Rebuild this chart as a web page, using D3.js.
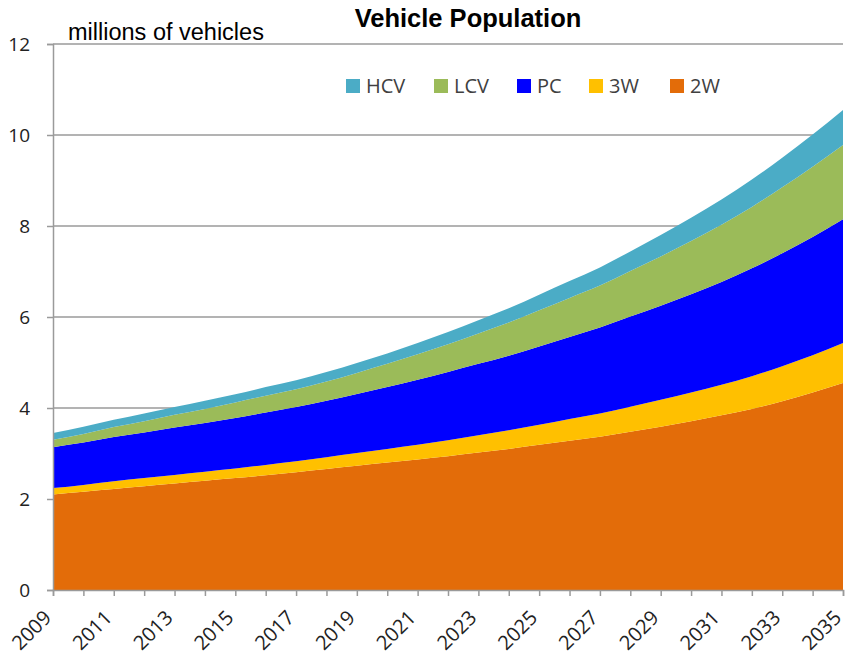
<!DOCTYPE html>
<html><head><meta charset="utf-8">
<script src="https://cdn.jsdelivr.net/npm/d3@7"></script>
<style>body{margin:0;background:#fff}svg{display:block}</style>
</head><body>
<svg id="c" width="846" height="662"></svg>
<script>
const years = d3.range(2009, 2036);
const tw  = [2.10,2.16,2.22,2.28,2.34,2.40,2.46,2.52,2.59,2.66,2.73,2.80,2.87,2.94,3.02,3.10,3.19,3.28,3.37,3.48,3.59,3.71,3.84,3.98,4.15,4.34,4.55];
const thw = [0.14,0.15,0.17,0.18,0.19,0.20,0.21,0.23,0.24,0.26,0.28,0.30,0.32,0.35,0.38,0.41,0.44,0.48,0.51,0.55,0.59,0.63,0.67,0.72,0.77,0.82,0.88];
const pc  = [0.90,0.93,0.97,1.00,1.04,1.07,1.11,1.15,1.19,1.24,1.30,1.36,1.43,1.50,1.57,1.64,1.72,1.80,1.89,1.98,2.07,2.16,2.26,2.37,2.48,2.60,2.72];
const lcv = [0.16,0.19,0.22,0.25,0.28,0.31,0.34,0.37,0.39,0.42,0.46,0.51,0.56,0.61,0.67,0.73,0.80,0.86,0.92,1.00,1.08,1.17,1.26,1.35,1.45,1.54,1.63];
const hcv = [0.15,0.16,0.16,0.17,0.17,0.18,0.18,0.19,0.20,0.21,0.22,0.23,0.25,0.27,0.29,0.31,0.34,0.37,0.40,0.43,0.47,0.51,0.55,0.60,0.65,0.71,0.77];
const seriesNames = ["2W","3W","PC","LCV","HCV"];
const legendOrder = ["HCV","LCV","PC","3W","2W"];
const colors = {"2W":"#E36C09","3W":"#FFC000","PC":"#0000FF","LCV":"#9BBB59","HCV":"#4BACC6"};
const yTicks = [0,2,4,6,8,10,12];
const xLabelYears = d3.range(2009, 2036, 2);

const rows = years.map((y,i)=>({year:y,"2W":tw[i],"3W":thw[i],"PC":pc[i],"LCV":lcv[i],"HCV":hcv[i]}));
const stack = d3.stack().keys(seriesNames)(rows);

const svg = d3.select("#c");
const L=53,R=843,T=44,B=590;
const x = d3.scaleLinear().domain([2009,2035]).range([L,R]);
const y = d3.scaleLinear().domain([0,12]).range([B,T]);
const grid="#9a9a9a";

// gridlines
svg.append("g").selectAll("line").data(yTicks.filter(d=>d>0)).join("line")
  .attr("x1",L).attr("x2",R).attr("y1",d=>y(d)).attr("y2",d=>y(d))
  .attr("stroke",grid).attr("stroke-width",1.5);

// areas
const area = d3.area().x(d=>x(d.data.year)).y0(d=>y(d[0])).y1(d=>y(d[1])).curve(d3.curveMonotoneX);
svg.append("g").selectAll("path").data(stack).join("path")
  .attr("d",area).attr("fill",d=>colors[d.key]);

// y axis
const ya = svg.append("g").attr("transform",`translate(${L},0)`)
  .call(d3.axisLeft(y).tickValues(yTicks).tickSize(6).tickPadding(17).tickFormat(d3.format("d")));
ya.select(".domain").attr("stroke",grid).attr("stroke-width",1.5);
ya.selectAll(".tick line").attr("stroke",grid).attr("stroke-width",1.5);
ya.selectAll("text").attr("font-family","Open Sans, Noto Sans, sans-serif").attr("font-size",19).attr("fill","#222").attr("dy","0.35em");

// x axis
const xa = svg.append("g").attr("transform",`translate(0,${B})`)
  .call(d3.axisBottom(x).tickValues(years).tickSize(6).tickFormat(d=>xLabelYears.includes(d)?d:""));
xa.select(".domain").attr("stroke",grid).attr("stroke-width",1.5);
xa.selectAll(".tick line").attr("stroke",grid).attr("stroke-width",1.5);
xa.selectAll("text").attr("font-family","Open Sans, Noto Sans, sans-serif").attr("font-size",20).attr("fill","#222")
  .attr("text-anchor","end").attr("dy",0).attr("y",0)
  .attr("transform","translate(-1,29) rotate(-45)");

// titles
svg.append("text").attr("x",468).attr("y",27).attr("text-anchor","middle")
  .attr("font-family","Liberation Sans, Arial, sans-serif").attr("font-weight","bold").attr("font-size",25.5).text("Vehicle Population");
svg.append("text").attr("x",68).attr("y",40)
  .attr("font-family","Liberation Sans, Arial, sans-serif").attr("font-size",23.5).text("millions of vehicles");

// legend
const legX = [346,434,517,589,670];
const lg = svg.append("g").selectAll("g").data(legendOrder).join("g")
  .attr("transform",(d,i)=>`translate(${legX[i]},79)`);
lg.append("rect").attr("width",14).attr("height",14).attr("fill",d=>colors[d]);
lg.append("text").attr("x",20).attr("y",14).attr("font-family","Open Sans, Noto Sans, sans-serif")
  .attr("font-size",20).attr("fill","#404040").text(d=>d);
</script>
</body></html>
